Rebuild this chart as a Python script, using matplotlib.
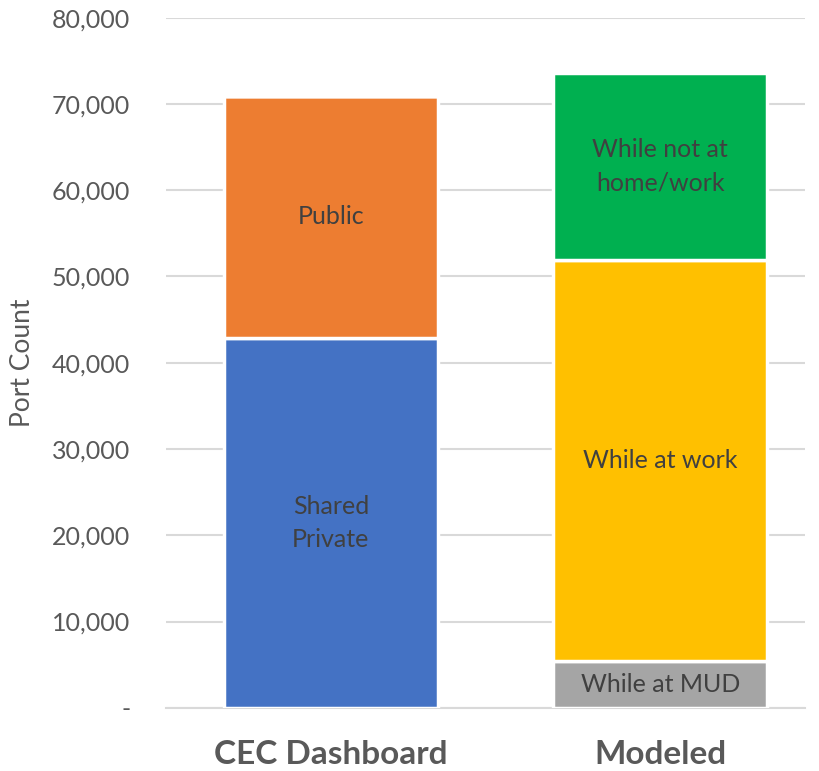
import matplotlib.pyplot as plt
from matplotlib.ticker import FuncFormatter

plt.rcParams['font.family'] = ['Lato', 'DejaVu Sans']

categories = ['CEC Dashboard', 'Modeled']

# stacked segments, bottom to top, one list per series (0 where a series is absent)
cec_private = [42900, 0]
cec_public = [28050, 0]
mod_mud = [0, 5400]
mod_work = [0, 46550]
mod_other = [0, 21650]

series = [
    ('Shared\nPrivate', cec_private, '#4472C4'),
    ('Public', cec_public, '#ED7D31'),
    ('While at MUD', mod_mud, '#A5A5A5'),
    ('While at work', mod_work, '#FFC000'),
    ('While not at\nhome/work', mod_other, '#00B050'),
]

yticks = [0, 10000, 20000, 30000, 40000, 50000, 60000, 70000, 80000]

fig = plt.figure(figsize=(8.19, 7.71), dpi=100)
ax = fig.add_axes([0.203, 0.082, 0.78, 0.895])

x = list(range(len(categories)))
bottoms = [0] * len(categories)
for label, vals, color in series:
    ax.bar(x, vals, width=0.65, bottom=bottoms, color=color,
           edgecolor='white', linewidth=2.5, zorder=3)
    for i, v in enumerate(vals):
        if v > 0:
            ax.text(x[i], bottoms[i] + v / 2, label, ha='center', va='center',
                    fontsize=18, color='#404040', zorder=4, linespacing=1.55)
    bottoms = [b + v for b, v in zip(bottoms, vals)]

ax.set_ylim(0, 80000)
ax.set_xlim(-0.5, 1.44)
ax.set_yticks(yticks)
ax.yaxis.set_major_formatter(FuncFormatter(lambda v, p: '-' if v == 0 else f'{int(v):,}'))
ax.grid(axis='y', color='#D9D9D9', linewidth=1.5, zorder=0)
ax.set_axisbelow(True)

ax.set_xticks(x)
ax.set_xticklabels(categories, fontsize=24, fontweight='bold', color='#595959')
ax.tick_params(axis='x', length=0, pad=23)
ax.tick_params(axis='y', length=0, pad=26, labelsize=18, labelcolor='#595959')

for s in ['top', 'right', 'left']:
    ax.spines[s].set_visible(False)
ax.spines['bottom'].set_color('#D9D9D9')
ax.spines['bottom'].set_linewidth(1.5)

ax.set_ylabel('Port Count', fontsize=19, color='#595959', labelpad=12)

fig.savefig('out.png', dpi=100)
